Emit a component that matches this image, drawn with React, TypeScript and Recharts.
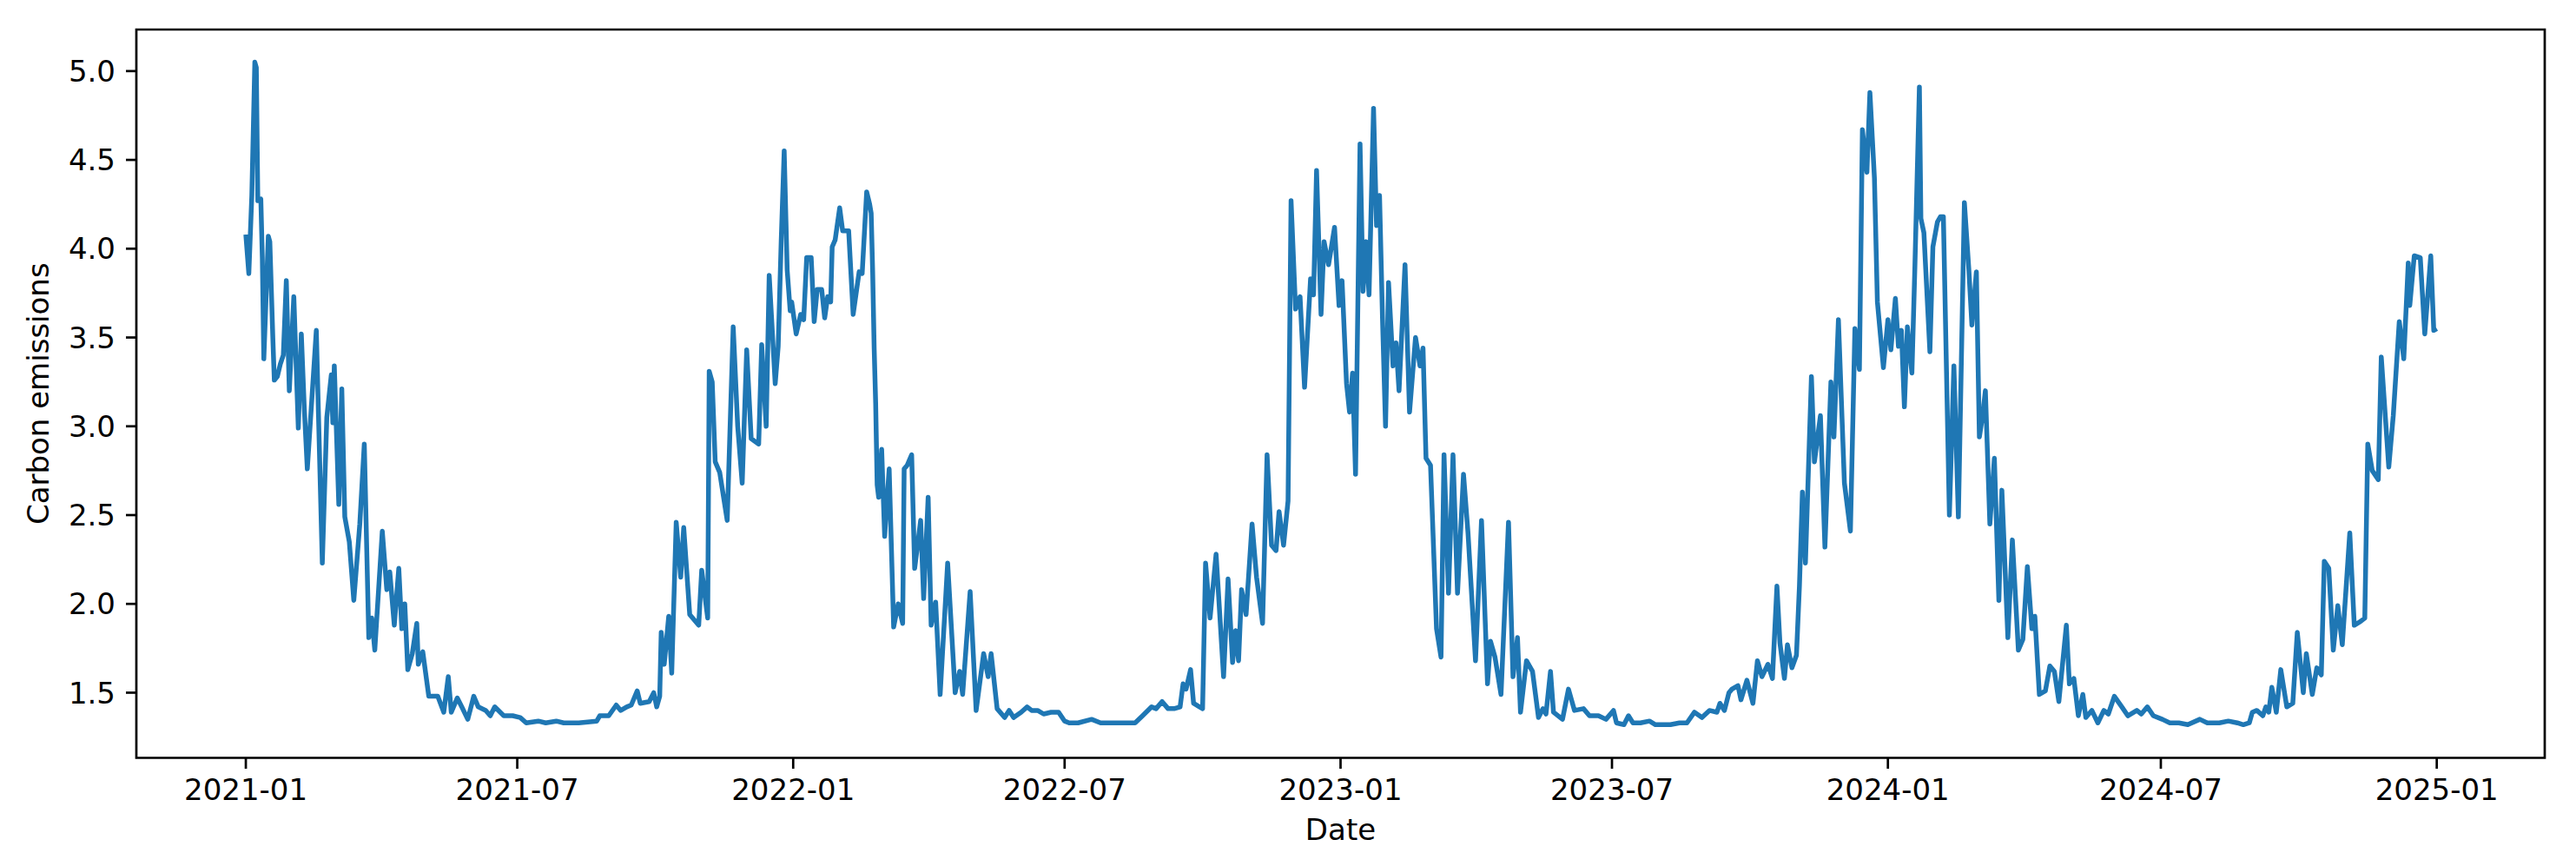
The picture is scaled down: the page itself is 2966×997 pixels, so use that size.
import { LineChart, Line, XAxis, YAxis, ReferenceArea } from 'recharts';

// day offsets counted from 2021-01-01, value = carbon emissions
const y2021: [number, number][] = [
  [0, 4.08], [2, 3.86], [4, 4.3], [6, 5.05], [7, 5.02], [8, 4.27], [10, 4.28], [11, 3.95], [12, 3.38],
  [15, 4.07], [16, 4.04], [18, 3.5], [19, 3.26], [21, 3.28], [23, 3.35], [25, 3.4], [27, 3.82], [29, 3.2],
  [32, 3.73], [35, 2.99], [37, 3.52], [39, 3.1], [41, 2.76], [44, 3.15], [47, 3.54], [51, 2.23], [54, 3.05],
  [57, 3.29], [58, 3.02], [59, 3.34], [62, 2.56], [64, 3.21], [66, 2.49], [69, 2.35], [72, 2.02], [76, 2.45],
  [79, 2.9], [82, 1.81], [84, 1.92], [86, 1.74], [91, 2.41], [94, 2.08], [96, 2.18], [99, 1.88], [102, 2.2],
  [104, 1.86], [106, 2.0], [108, 1.63], [111, 1.72], [114, 1.89], [115, 1.66], [118, 1.73], [122, 1.48],
  [128, 1.48], [132, 1.39], [135, 1.59], [137, 1.39], [141, 1.47], [144, 1.42], [148, 1.35], [152, 1.48],
  [155, 1.42], [160, 1.4], [163, 1.37], [166, 1.42], [172, 1.37], [178, 1.37], [183, 1.36], [187, 1.33],
  [195, 1.34], [200, 1.33], [207, 1.34], [212, 1.33], [222, 1.33], [234, 1.34], [236, 1.37], [242, 1.37],
  [247, 1.43], [250, 1.4], [254, 1.42], [257, 1.43], [261, 1.51], [263, 1.44], [269, 1.45], [272, 1.5],
  [274, 1.42], [276, 1.48], [277, 1.84], [279, 1.66], [282, 1.93], [284, 1.61], [287, 2.46], [290, 2.15],
  [292, 2.43], [296, 1.94], [302, 1.88], [304, 2.19], [308, 1.92], [309, 3.31], [311, 3.25], [313, 2.8],
  [316, 2.74], [321, 2.47], [325, 3.56], [328, 3.0], [331, 2.68], [334, 3.43], [337, 2.93], [342, 2.9],
  [344, 3.46], [347, 3.0], [349, 3.85], [353, 3.24], [355, 3.45], [357, 4.04], [359, 4.55], [361, 3.88],
  [363, 3.65], [364, 3.7],
];

const y2022: [number, number][] = [
  [367, 3.52], [370, 3.63], [372, 3.6], [374, 3.95], [377, 3.95], [379, 3.59], [381, 3.77], [384, 3.77],
  [386, 3.61], [388, 3.73], [390, 3.7], [391, 4.01], [393, 4.05], [396, 4.23], [398, 4.1], [402, 4.1],
  [405, 3.63], [409, 3.87], [411, 3.86], [414, 4.32], [416, 4.25], [417, 4.2], [418, 3.87], [419, 3.44],
  [420, 3.13], [421, 2.67], [422, 2.6], [424, 2.87], [426, 2.38], [429, 2.76], [432, 1.87], [435, 2.0],
  [438, 1.89], [439, 2.76], [441, 2.78], [444, 2.84], [446, 2.2], [450, 2.47], [452, 2.03], [455, 2.6],
  [457, 1.88], [460, 2.01], [463, 1.49], [468, 2.23], [473, 1.5], [476, 1.62], [478, 1.49], [483, 2.07],
  [487, 1.4], [492, 1.72], [495, 1.59], [497, 1.72], [501, 1.41], [506, 1.36], [509, 1.4], [512, 1.36],
  [517, 1.39], [521, 1.42], [524, 1.4], [528, 1.4], [532, 1.38], [537, 1.39], [542, 1.39], [546, 1.34],
  [549, 1.33], [555, 1.33], [564, 1.35], [570, 1.33], [578, 1.33], [586, 1.33], [593, 1.33], [598, 1.37],
  [604, 1.42], [607, 1.41], [611, 1.45], [615, 1.41], [619, 1.41], [623, 1.42], [625, 1.55], [627, 1.52],
  [630, 1.63], [632, 1.44], [636, 1.42], [638, 1.41], [640, 2.23], [643, 1.92], [647, 2.28], [652, 1.59],
  [655, 2.14], [658, 1.67], [660, 1.85], [662, 1.68], [664, 2.08], [667, 1.94], [671, 2.45], [674, 2.15],
  [678, 1.89], [681, 2.84], [684, 2.33], [687, 2.3], [689, 2.52], [692, 2.33], [695, 2.58], [697, 4.27],
  [700, 3.66], [703, 3.73], [706, 3.22], [710, 3.83], [712, 3.74], [714, 4.44], [717, 3.63], [719, 4.04],
  [722, 3.91], [726, 4.12], [729, 3.68],
];

const y2023: [number, number][] = [
  [731, 3.82], [734, 3.24], [736, 3.08], [738, 3.3], [740, 2.73], [743, 4.59], [745, 3.76], [747, 4.04],
  [749, 3.74], [752, 4.79], [754, 4.13], [756, 4.3], [758, 3.6], [760, 3.0], [762, 3.81], [765, 3.34],
  [767, 3.47], [769, 3.2], [773, 3.91], [776, 3.08], [780, 3.5], [783, 3.34], [785, 3.44], [787, 2.82],
  [790, 2.78], [794, 1.86], [797, 1.7], [799, 2.84], [802, 2.06], [805, 2.84], [808, 2.06], [812, 2.73],
  [815, 2.4], [820, 1.68], [824, 2.47], [828, 1.55], [830, 1.79], [833, 1.7], [837, 1.49], [842, 2.46],
  [845, 1.59], [848, 1.81], [850, 1.39], [854, 1.68], [858, 1.62], [862, 1.36], [865, 1.41], [867, 1.38],
  [870, 1.62], [872, 1.39], [878, 1.35], [882, 1.52], [886, 1.4], [892, 1.41], [896, 1.37], [902, 1.37],
  [907, 1.35], [912, 1.4], [914, 1.33], [919, 1.32], [922, 1.37], [925, 1.33], [930, 1.33], [936, 1.34],
  [940, 1.32], [950, 1.32], [956, 1.33], [961, 1.33], [966, 1.39], [971, 1.36], [976, 1.4], [981, 1.39],
  [983, 1.44], [986, 1.4], [989, 1.5], [991, 1.52], [995, 1.54], [997, 1.46], [1001, 1.57], [1005, 1.44],
  [1008, 1.68], [1011, 1.59], [1015, 1.66], [1018, 1.58], [1021, 2.1], [1023, 1.78], [1026, 1.58],
  [1028, 1.77], [1031, 1.64], [1034, 1.71], [1036, 2.1], [1038, 2.63], [1040, 2.23], [1044, 3.28],
  [1046, 2.8], [1050, 3.06], [1053, 2.32], [1057, 3.25], [1059, 2.94], [1062, 3.6], [1066, 2.68],
  [1070, 2.41], [1073, 3.55], [1076, 3.32], [1078, 4.67], [1081, 4.43], [1083, 4.88], [1086, 4.4],
  [1088, 3.7], [1092, 3.33],
];

const y2024: [number, number][] = [
  [1095, 3.6], [1097, 3.43], [1100, 3.72], [1102, 3.45], [1104, 3.54], [1106, 3.11], [1108, 3.56],
  [1111, 3.3], [1113, 3.9], [1116, 4.91], [1117, 4.17], [1119, 4.09], [1123, 3.42], [1125, 4.01],
  [1128, 4.15], [1130, 4.18], [1132, 4.18], [1136, 2.5], [1139, 3.34], [1142, 2.49], [1146, 4.26],
  [1149, 3.88], [1151, 3.57], [1154, 3.87], [1156, 2.94], [1158, 3.05], [1160, 3.2], [1163, 2.45],
  [1166, 2.82], [1169, 2.02], [1171, 2.64], [1175, 1.81], [1178, 2.36], [1182, 1.74], [1185, 1.8],
  [1188, 2.21], [1191, 1.86], [1193, 1.93], [1196, 1.49], [1200, 1.51], [1203, 1.65], [1206, 1.62],
  [1209, 1.45], [1214, 1.88], [1216, 1.55], [1219, 1.58], [1222, 1.37], [1225, 1.49], [1227, 1.36],
  [1231, 1.4], [1235, 1.33], [1239, 1.4], [1242, 1.38], [1246, 1.48], [1251, 1.42], [1255, 1.37],
  [1261, 1.4], [1264, 1.38], [1268, 1.42], [1272, 1.37], [1278, 1.35], [1283, 1.33], [1289, 1.33],
  [1295, 1.32], [1303, 1.35], [1308, 1.33], [1316, 1.33], [1322, 1.34], [1328, 1.33], [1332, 1.32],
  [1336, 1.33], [1338, 1.39], [1341, 1.4], [1345, 1.37], [1347, 1.42], [1349, 1.39], [1351, 1.53],
  [1354, 1.39], [1357, 1.63], [1361, 1.42], [1365, 1.44], [1368, 1.84], [1372, 1.5], [1374, 1.72],
  [1378, 1.49], [1381, 1.64], [1384, 1.6], [1386, 2.24], [1389, 2.2], [1392, 1.74], [1395, 1.99],
  [1398, 1.77], [1403, 2.4], [1406, 1.88], [1410, 1.9], [1413, 1.92], [1415, 2.9], [1418, 2.75],
  [1422, 2.7], [1424, 3.39], [1429, 2.77], [1432, 3.06], [1436, 3.59], [1439, 3.38], [1442, 3.92],
  [1443, 3.68], [1446, 3.96], [1450, 3.95], [1453, 3.52], [1457, 3.96], [1459, 3.54], [1461, 3.55],
];

const tickDays = [0, 181, 365, 546, 730, 911, 1095, 1277, 1461];
const tickLabels = ['2021-01', '2021-07', '2022-01', '2022-07', '2023-01', '2023-07', '2024-01', '2024-07', '2025-01'];
const yTicks = [1.5, 2.0, 2.5, 3.0, 3.5, 4.0, 4.5, 5.0];

const X_DOMAIN: [number, number] = [-73, 1533];
const Y_DOMAIN: [number, number] = [1.133, 5.234];

const W = 2966;
const H = 997;
const PLOT_LEFT = 157;
const PLOT_RIGHT = 2930;
const PLOT_TOP = 34;
const PLOT_BOTTOM = 872.5;

const FONT = { fontFamily: 'DejaVu Sans', fontSize: 34, fill: '#000' };

const data = [...y2021, ...y2022, ...y2023, ...y2024].map(([day, value]) => ({ day, value }));

export default function App() {
  const midX = (PLOT_LEFT + PLOT_RIGHT) / 2;
  const midY = (PLOT_TOP + PLOT_BOTTOM) / 2;
  return (
    <div style={{ width: W, height: H, background: '#fff' }}>
      <style>{'body { margin: 0; }'}</style>
      <LineChart
        width={W}
        height={H}
        data={data}
        margin={{ top: PLOT_TOP, right: W - PLOT_RIGHT, bottom: 0, left: 0 }}
      >
        <XAxis
          type="number"
          dataKey="day"
          domain={X_DOMAIN}
          allowDataOverflow
          ticks={tickDays}
          interval={0}
          tickFormatter={(d: number) => tickLabels[tickDays.indexOf(d)]}
          height={H - PLOT_BOTTOM}
          axisLine={false}
          tickSize={12.5}
          tickMargin={12}
          tickLine={{ stroke: '#000', strokeWidth: 2.7 }}
          tick={FONT}
          label={{
            content: () => (
              <text x={midX} y={967} textAnchor="middle" {...FONT}>Date</text>
            ),
          }}
        />
        <YAxis
          type="number"
          domain={Y_DOMAIN}
          allowDataOverflow
          ticks={yTicks}
          interval={0}
          tickFormatter={(v: number) => v.toFixed(1)}
          width={PLOT_LEFT}
          axisLine={false}
          tickSize={12}
          tickMargin={12}
          tickLine={{ stroke: '#000', strokeWidth: 2.7 }}
          tick={FONT}
          label={{
            content: () => (
              <text x={56} y={midY} textAnchor="middle" transform={`rotate(-90 56 ${midY})`} {...FONT}>
                Carbon emissions
              </text>
            ),
          }}
        />
        <Line
          type="linear"
          dataKey="value"
          stroke="#1f77b4"
          strokeWidth={5.5}
          strokeLinejoin="round"
          dot={false}
          activeDot={false}
          isAnimationActive={false}
        />
        <ReferenceArea
          x1={X_DOMAIN[0]}
          x2={X_DOMAIN[1]}
          y1={Y_DOMAIN[0]}
          y2={Y_DOMAIN[1]}
          fill="none"
          stroke="#000"
          strokeWidth={2.7}
          ifOverflow="visible"
        />
      </LineChart>
    </div>
  );
}
